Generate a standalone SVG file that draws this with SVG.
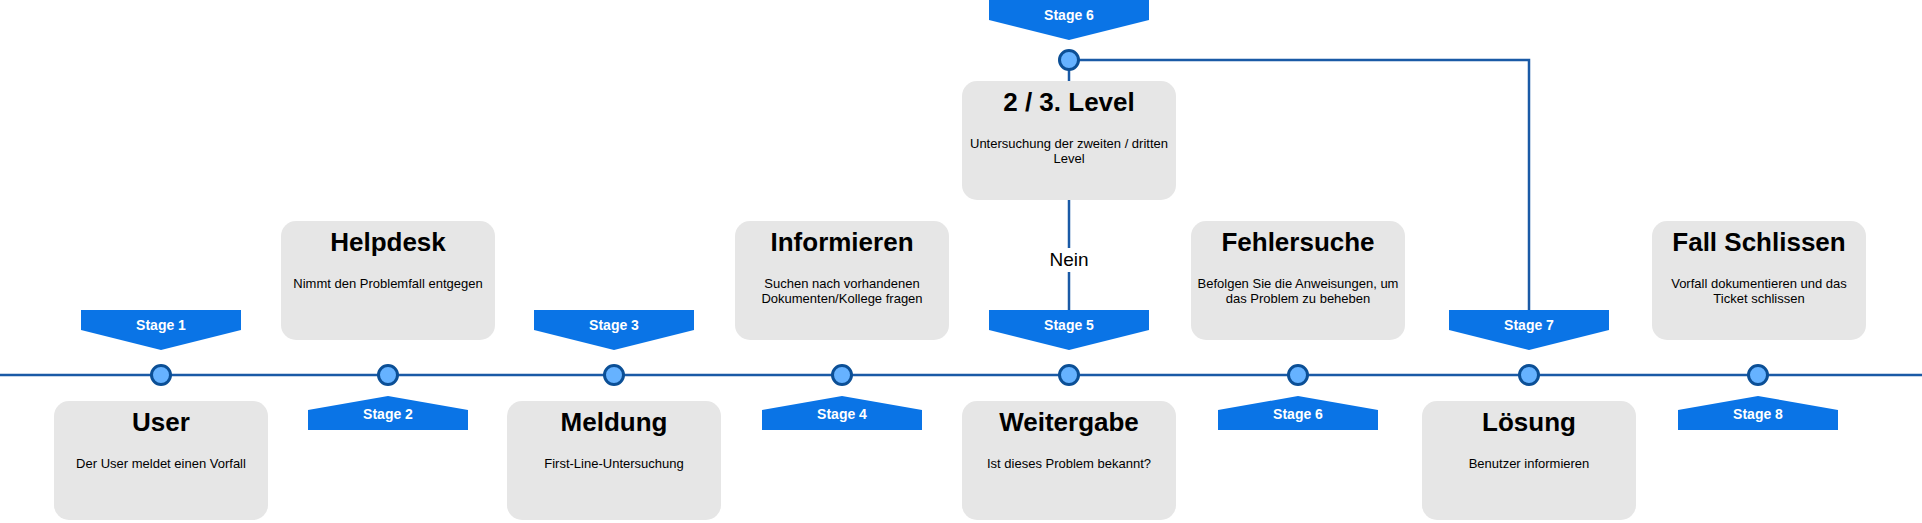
<svg xmlns="http://www.w3.org/2000/svg" width="1922" height="523" viewBox="0 0 1922 523">
<style>
.box{fill:#e6e6e6;}
.title{font-family:"Liberation Sans",Arial,Helvetica,sans-serif;font-size:26px;font-weight:bold;fill:#000;text-anchor:middle;}
.desc{font-family:"Liberation Sans",Arial,Helvetica,sans-serif;font-size:13px;fill:#000;text-anchor:middle;}
.ban{fill:#0a74e6;}
.st{font-family:"Liberation Sans",Arial,Helvetica,sans-serif;font-size:14px;font-weight:bold;fill:#fff;text-anchor:middle;}
.line{stroke:#1a5aa6;stroke-width:2.5;fill:none;}
.dot{fill:#66b2ff;stroke:#0b4f96;stroke-width:3;}
.lbl{font-family:"Liberation Sans",Arial,Helvetica,sans-serif;font-size:19px;fill:#000;text-anchor:middle;}
</style>
<rect width="1922" height="523" fill="#ffffff"/>
<g id="connectors">
<line class="line" x1="0" y1="375" x2="1922" y2="375"/>
<line class="line" x1="1069" y1="60" x2="1069" y2="81"/>
<line class="line" x1="1069" y1="200" x2="1069" y2="248"/>
<line class="line" x1="1069" y1="272" x2="1069" y2="310"/>
<text class="lbl" x="1069" y="266">Nein</text>
<polyline class="line" points="1069,60 1529,60 1529,310"/>
</g>
<g id="stage1">
<polygon class="ban" points="81,310 241,310 241,330 161,350 81,330"/>
<text class="st" x="161" y="330">Stage 1</text>
<circle class="dot" cx="161" cy="375" r="9.5"/>
<rect class="box" x="54" y="401" width="214" height="119" rx="15"/>
<text class="title" x="161" y="431">User</text>
<text class="desc" x="161" y="467.5">Der User meldet einen Vorfall</text>
</g>
<g id="stage2">
<rect class="box" x="281" y="221" width="214" height="119" rx="15"/>
<text class="title" x="388" y="251">Helpdesk</text>
<text class="desc" x="388" y="287.5">Nimmt den Problemfall entgegen</text>
<circle class="dot" cx="388" cy="375" r="9.5"/>
<polygon class="ban" points="388,396 468,410 468,430 308,430 308,410"/>
<text class="st" x="388" y="419">Stage 2</text>
</g>
<g id="stage3">
<polygon class="ban" points="534,310 694,310 694,330 614,350 534,330"/>
<text class="st" x="614" y="330">Stage 3</text>
<circle class="dot" cx="614" cy="375" r="9.5"/>
<rect class="box" x="507" y="401" width="214" height="119" rx="15"/>
<text class="title" x="614" y="431">Meldung</text>
<text class="desc" x="614" y="467.5">First-Line-Untersuchung</text>
</g>
<g id="stage4">
<rect class="box" x="735" y="221" width="214" height="119" rx="15"/>
<text class="title" x="842" y="251">Informieren</text>
<text class="desc" x="842" y="287.5">Suchen nach vorhandenen</text>
<text class="desc" x="842" y="302.5">Dokumenten/Kollege fragen</text>
<circle class="dot" cx="842" cy="375" r="9.5"/>
<polygon class="ban" points="842,396 922,410 922,430 762,430 762,410"/>
<text class="st" x="842" y="419">Stage 4</text>
</g>
<g id="stage5">
<polygon class="ban" points="989,310 1149,310 1149,330 1069,350 989,330"/>
<text class="st" x="1069" y="330">Stage 5</text>
<circle class="dot" cx="1069" cy="375" r="9.5"/>
<rect class="box" x="962" y="401" width="214" height="119" rx="15"/>
<text class="title" x="1069" y="431">Weitergabe</text>
<text class="desc" x="1069" y="467.5">Ist dieses Problem bekannt?</text>
</g>
<g id="level23">
<polygon class="ban" points="989,0 1149,0 1149,20 1069,40 989,20"/>
<text class="st" x="1069" y="20">Stage 6</text>
<circle class="dot" cx="1069" cy="60" r="9.5"/>
<rect class="box" x="962" y="81" width="214" height="119" rx="15"/>
<text class="title" x="1069" y="111">2 / 3. Level</text>
<text class="desc" x="1069" y="148">Untersuchung der zweiten / dritten</text>
<text class="desc" x="1069" y="163">Level</text>
</g>
<g id="stage6">
<rect class="box" x="1191" y="221" width="214" height="119" rx="15"/>
<text class="title" x="1298" y="251">Fehlersuche</text>
<text class="desc" x="1298" y="287.5">Befolgen Sie die Anweisungen, um</text>
<text class="desc" x="1298" y="302.5">das Problem zu beheben</text>
<circle class="dot" cx="1298" cy="375" r="9.5"/>
<polygon class="ban" points="1298,396 1378,410 1378,430 1218,430 1218,410"/>
<text class="st" x="1298" y="419">Stage 6</text>
</g>
<g id="stage7">
<polygon class="ban" points="1449,310 1609,310 1609,330 1529,350 1449,330"/>
<text class="st" x="1529" y="330">Stage 7</text>
<circle class="dot" cx="1529" cy="375" r="9.5"/>
<rect class="box" x="1422" y="401" width="214" height="119" rx="15"/>
<text class="title" x="1529" y="431">Lösung</text>
<text class="desc" x="1529" y="467.5">Benutzer informieren</text>
</g>
<g id="stage8">
<rect class="box" x="1652" y="221" width="214" height="119" rx="15"/>
<text class="title" x="1759" y="251">Fall Schlissen</text>
<text class="desc" x="1759" y="287.5">Vorfall dokumentieren und das</text>
<text class="desc" x="1759" y="302.5">Ticket schlissen</text>
<circle class="dot" cx="1758" cy="375" r="9.5"/>
<polygon class="ban" points="1758,396 1838,410 1838,430 1678,430 1678,410"/>
<text class="st" x="1758" y="419">Stage 8</text>
</g>
</svg>
